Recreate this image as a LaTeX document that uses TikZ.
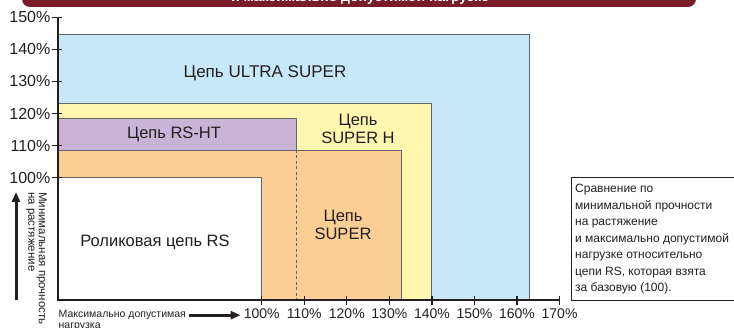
\documentclass[tikz,border=0pt]{standalone}
\usepackage{fontspec}
\setmainfont{Liberation Sans}
\usetikzlibrary{positioning,arrows.meta}

\definecolor{ultrablue}{HTML}{C7E8F8}
\definecolor{superyellow}{HTML}{FFF6B0}
\definecolor{rshtviolet}{HTML}{C9B3D6}
\definecolor{superorange}{HTML}{FBCE94}
\definecolor{bannerred}{HTML}{7A1B2A}
\definecolor{bandedge}{HTML}{5F676E}
\definecolor{ink}{HTML}{231F20}

\newcommand{\fsz}[2]{\fontsize{#1}{#2}\selectfont}

\begin{document}
\begin{tikzpicture}[x=1pt,y=-1pt,
    band/.style={draw=bandedge,line width=0.7pt},
    bandtext/.style={font=\fsz{16.5}{18},align=center,text=ink},
    ticklab/.style={inner sep=0pt,text=ink},
    axisline/.style={line width=1.3pt,draw=ink},
    fatarrow/.style={line width=3pt,draw=ink,-{Triangle[length=10pt,width=8pt]}}]

\useasboundingbox (0,0) rectangle (734,328);

% title strip
\fill[bannerred,rounded corners=8pt] (22,-20) rectangle (696,7);
\node[font=\bfseries\fsz{14}{14},text=white,anchor=base] (title) at (360,2) {и максимально допустимой нагрузке};

% bands
\coordinate (O) at (58,300);
\draw[band,fill=ultrablue] (O) rectangle (529.5,34.5);
\draw[band,fill=superyellow] (O) rectangle (431.5,103);
\draw[band,fill=rshtviolet] (O) rectangle (296,118.5);
\draw[band,fill=superorange] (O) rectangle (401,150);
\draw[band,fill=white] (O) rectangle (261.7,177.7);
\draw[band,dash pattern=on 3pt off 2.5pt] (296,150) -- (296,300);

\node[bandtext,font=\fsz{17}{18}] (ultra) at (265,73.5) {Цепь ULTRA SUPER};
\node[bandtext] (superh) at (358,129) {Цепь\\SUPER H};
\node[bandtext] (rsht) at (174,134.5) {Цепь RS-HT};
\node[bandtext] (super) at (343,225) {Цепь\\SUPER};
\node[bandtext] (rs) at (155,242) {Роликовая цепь RS};

% axes
\draw[axisline] (58,17.2) -- (O) -- (560,300);
\foreach \p in {100,110,...,150}{
  \pgfmathsetmacro\yy{177.7-(\p-100)*3.21}
  \draw[axisline] (52,\yy) -- (62,\yy);
  \node[ticklab,font=\fsz{16}{16},anchor=east] (y\p) at (50.5,\yy) {\p\%};
}
\foreach \p in {100,110,...,170}{
  \pgfmathsetmacro\xx{261.7+(\p-100)*4.255}
  \draw[axisline] (\xx,296.5) -- (\xx,305);
  \node[ticklab,font=\fsz{14}{14},anchor=base] (x\p) at (\xx,319) {\p\%};
}

% axis names
\node[ticklab,font=\fsz{10.5}{13},anchor=north west] (xname) at (58.5,310.3) {Максимально допустимая};
\node[ticklab,font=\fsz{10.5}{13},below=2.5pt of xname.south west,anchor=north west] (xload) {нагрузка};
\draw[fatarrow] ([xshift=3pt]xname.east) -- ([xshift=-3pt]xname.east -| x100.west);

\coordinate (ybot) at (16,300);
\coordinate (ytop) at (16,192);
\draw[fatarrow] (ybot) -- (ytop);
\node[ticklab,font=\fsz{11.5}{10.5},rotate=-90,anchor=north west,align=left] (yname) at (47,192) {Минимальная прочность\\на растяжение};

% note
\draw[ink,line width=0.8pt] (571,177) rectangle (750,300);
\node[ticklab,font=\fsz{12}{16.5},align=left,anchor=north west] (note) at (575,184)
  {Сравнение по\\минимальной прочности\\на растяжение\\и максимально допустимой\\нагрузке относительно\\цепи RS, которая взята\\за базовую (100).};
\end{tikzpicture}
\end{document}
